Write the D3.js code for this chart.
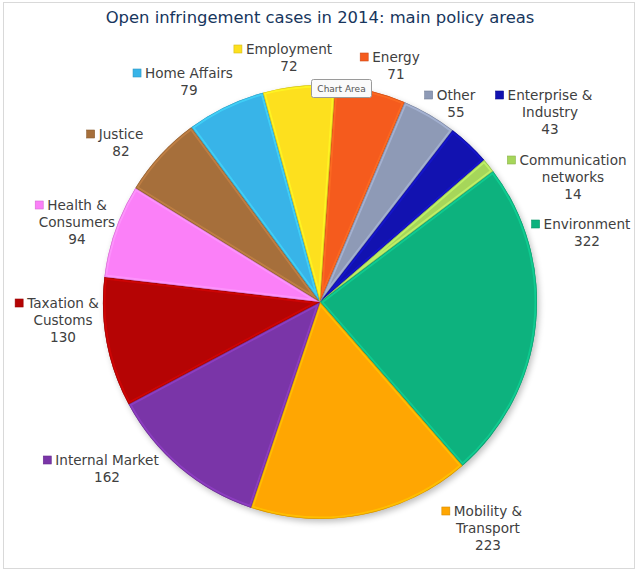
<!DOCTYPE html>
<html><head><meta charset="utf-8">
<script src="https://cdn.jsdelivr.net/npm/d3@7"></script>
<style>html,body{margin:0;padding:0;background:#fff}svg{display:block}</style>
</head><body>
<svg id="c" width="640" height="573"></svg>
<script>
// ---- data ----
const categories = ["Energy","Other","Enterprise & Industry","Communication networks","Environment","Mobility & Transport","Internal Market","Taxation & Customs","Health & Consumers","Justice","Home Affairs","Employment"];
const values = [71,55,43,14,322,223,162,130,94,82,79,72];
const labelLines = [["Energy"],["Other"],["Enterprise &","Industry"],["Communication","networks"],["Environment"],["Mobility &","Transport"],["Internal Market"],["Taxation &","Customs"],["Health &","Consumers"],["Justice"],["Home Affairs"],["Employment"]];
const title = "Open infringement cases in 2014: main policy areas";

// ---- style / layout ----
const palette = ["#f55b1d","#8e9ab6","#1212b0","#a6d65a","#0db27e","#ffa602","#7a35a8","#b50404","#fb80f8","#a66f3b","#38b4e8","#fde01e"];
const labelPos = [[396,57],[456,95],[550,95],[573,160],[587,224],[488,511],[107,460],[63,303],[77,205],[121,134],[189,73],[289,49]];
const cx = 320, cy = 302, R = 217;
const lineH = 16.8;

const svg = d3.select("#c");
svg.append("rect").attr("x",3.5).attr("y",2.5).attr("width",631).attr("height",566)
  .attr("fill","#fff").attr("stroke","#d9d9d9");

svg.append("text").attr("x",320).attr("y",23).attr("text-anchor","middle")
  .attr("font-family","DejaVu Sans, Verdana, sans-serif").attr("font-size",16.4)
  .attr("fill","#17365d").text(title);

const defs = svg.append("defs");
const shadow = defs.append("filter").attr("id","sh").attr("x","-20%").attr("y","-20%").attr("width","140%").attr("height","140%");
shadow.append("feGaussianBlur").attr("stdDeviation",3);

const start = 4*Math.PI/180;
const pie = d3.pie().sort(null).value(d=>d).startAngle(start).endAngle(start+2*Math.PI);
const arcs = pie(values);
const arc = d3.arc().innerRadius(0).outerRadius(R);

const g = svg.append("g").attr("transform",`translate(${cx},${cy})`);
g.append("circle").attr("cx",2).attr("cy",3).attr("r",R).attr("fill","#000").attr("opacity",0.25).attr("filter","url(#sh)");

arcs.forEach((a,i)=>{
  const id = "clip"+i;
  defs.append("clipPath").attr("id",id).append("path").attr("d",arc(a)).attr("transform",`translate(${cx},${cy})`);
  const base = d3.color(palette[i]);
  g.append("path").attr("d",arc(a)).attr("fill",palette[i]);
  // bevel: lighter inner edge
  svg.append("g").attr("clip-path",`url(#${id})`)
    .append("path").attr("transform",`translate(${cx},${cy})`).attr("d",arc(a))
    .attr("fill","none").attr("stroke",base.brighter(0.6)).attr("stroke-width",5).attr("stroke-opacity",0.6);
  svg.append("g").attr("clip-path",`url(#${id})`)
    .append("path").attr("transform",`translate(${cx},${cy})`).attr("d",arc(a))
    .attr("fill","none").attr("stroke",base.darker(0.8)).attr("stroke-width",1.2).attr("stroke-opacity",0.7);
});

// labels
const lg = svg.append("g").attr("font-family","DejaVu Sans, Verdana, sans-serif").attr("font-size",13.6).attr("fill","#404040");
categories.forEach((c,i)=>{
  const [x,y] = labelPos[i];
  const lines = labelLines[i].concat([String(values[i])]);
  const t = lg.append("text").attr("text-anchor","middle");
  lines.forEach((l,j)=>{
    t.append("tspan").attr("x",x).attr("y",y+5+j*lineH).text(l);
  });
  const w = t.select("tspan").node().getComputedTextLength();
  const mc = d3.color(palette[i]);
  lg.append("rect").attr("x",x-w/2-12).attr("y",y-4).attr("width",8).attr("height",8)
    .attr("fill",palette[i]).attr("stroke",mc.darker(0.5)).attr("stroke-width",0.6);
});

// "Chart Area" tooltip
const tt = svg.append("g");
tt.append("rect").attr("x",311.5).attr("y",79.5).attr("width",60).attr("height",18).attr("rx",2)
  .attr("fill","#fafafa").attr("stroke","#9a9a9a");
tt.append("text").attr("x",341.5).attr("y",92).attr("text-anchor","middle")
  .attr("font-family","DejaVu Sans, sans-serif").attr("font-size",9).attr("fill","#555").text("Chart Area");
</script>
</body></html>
